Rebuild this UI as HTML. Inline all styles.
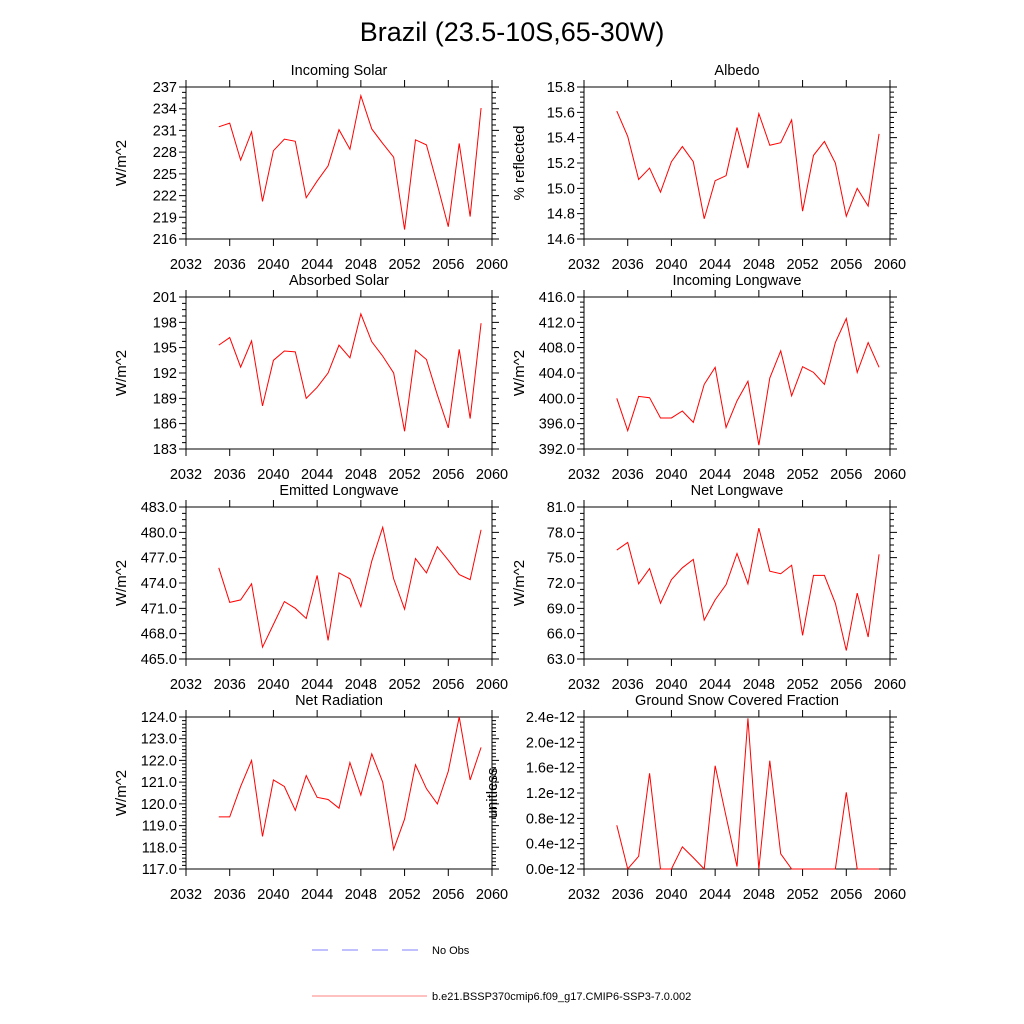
<!DOCTYPE html>
<html><head><meta charset="utf-8"><style>
body{margin:0;background:#fff}
svg{display:block;font-family:"Liberation Sans",sans-serif}
</style></head><body>
<svg id="c" width="1024" height="1024" viewBox="0 0 1024 1024">
<text x="512" y="41" font-size="27" text-anchor="middle">Brazil (23.5-10S,65-30W)</text>
<g>
<line x1="312" y1="950" x2="419" y2="950" stroke="#8080ff" stroke-width="1" stroke-dasharray="16,14"/>
<text x="432" y="954" font-size="11">No Obs</text>
<line x1="312" y1="996" x2="427" y2="996" stroke="#ff8080" stroke-width="1"/>
<text x="432" y="1000" font-size="11">b.e21.BSSP370cmip6.f09_g17.CMIP6-SSP3-7.0.002</text>
</g>
</svg>
<script>
const years=[2035,2036,2037,2038,2039,2040,2041,2042,2043,2044,2045,2046,2047,2048,2049,2050,2051,2052,2053,2054,2055,2056,2057,2058,2059];
const xTicks=[2032,2036,2040,2044,2048,2052,2056,2060];
const incomingSolar=[231.5,232.0,226.9,230.8,221.2,228.2,229.8,229.5,221.7,224.0,226.1,231.1,228.4,235.8,231.2,229.2,227.3,217.3,229.7,229.0,223.5,217.7,229.2,219.1,234.1];
const albedo=[15.61,15.41,15.07,15.16,14.97,15.21,15.33,15.21,14.76,15.06,15.10,15.48,15.16,15.59,15.34,15.36,15.54,14.82,15.26,15.37,15.20,14.78,15.00,14.86,15.43];
const absorbedSolar=[195.3,196.2,192.7,195.8,188.1,193.5,194.6,194.5,189.0,190.3,192.0,195.3,193.8,199.0,195.7,194.0,192.0,185.1,194.7,193.6,189.4,185.5,194.8,186.6,197.9];
const incomingLW=[400.0,394.9,400.3,400.1,396.9,396.9,398.0,396.2,402.2,404.9,395.4,399.6,402.7,392.6,403.2,407.5,400.4,405.0,404.1,402.2,408.8,412.6,404.1,408.8,404.9];
const emittedLW=[475.8,471.7,472.0,473.9,466.4,469.1,471.8,471.0,469.8,474.9,467.2,475.2,474.5,471.2,476.6,480.6,474.5,470.9,476.9,475.2,478.3,476.7,475.0,474.4,480.3];
const netLW=[75.9,76.8,71.9,73.7,69.6,72.4,73.8,74.8,67.6,70.0,71.8,75.5,71.9,78.5,73.4,73.1,74.1,65.8,72.9,72.9,69.6,64.0,70.8,65.6,75.4];
const netRad=[119.4,119.4,120.8,122.0,118.5,121.1,120.8,119.7,121.3,120.3,120.2,119.8,121.9,120.4,122.3,121.0,117.9,119.3,121.8,120.7,120.0,121.5,124.0,121.1,122.6];
const snowFrac=[0.69,0,0.2,1.51,0,0,0.35,0.18,0,1.63,0.83,0.04,2.38,0,1.71,0.24,0,0,0,0,0,1.21,0,0,0];
const ticksIS=[216,219,222,225,228,231,234,237];
const ticksAlb=[14.6,14.8,15.0,15.2,15.4,15.6,15.8];
const ticksAS=[183,186,189,192,195,198,201];
const ticksILW=[392,396,400,404,408,412,416];
const ticksELW=[465,468,471,474,477,480,483];
const ticksNLW=[63,66,69,72,75,78,81];
const ticksNR=[117,118,119,120,121,122,123,124];
const ticksSnow=[0,0.4,0.8,1.2,1.6,2.0,2.4];

const panels=[
 {t:"Incoming Solar",u:"W/m^2",d:incomingSolar,tk:ticksIS,f:v=>v.toFixed(0),c:0,r:0,n:"incoming-solar",minor:3},
 {t:"Albedo",u:"% reflected",d:albedo,tk:ticksAlb,f:v=>v.toFixed(1),c:1,r:0,n:"albedo",minor:4},
 {t:"Absorbed Solar",u:"W/m^2",d:absorbedSolar,tk:ticksAS,f:v=>v.toFixed(0),c:0,r:1,n:"absorbed-solar",minor:3},
 {t:"Incoming Longwave",u:"W/m^2",d:incomingLW,tk:ticksILW,f:v=>v.toFixed(1),c:1,r:1,n:"incoming-longwave",minor:4},
 {t:"Emitted Longwave",u:"W/m^2",d:emittedLW,tk:ticksELW,f:v=>v.toFixed(1),c:0,r:2,n:"emitted-longwave",minor:3},
 {t:"Net Longwave",u:"W/m^2",d:netLW,tk:ticksNLW,f:v=>v.toFixed(1),c:1,r:2,n:"net-longwave",minor:3},
 {t:"Net Radiation",u:"W/m^2",d:netRad,tk:ticksNR,f:v=>v.toFixed(1),c:0,r:3,n:"net-radiation",minor:5},
 {t:"Ground Snow Covered Fraction",u:"unitless",d:snowFrac,tk:ticksSnow,f:v=>v.toFixed(1)+"e-12",c:1,r:3,n:"ground-snow-covered-fraction",minor:4,ux:497}
];
const NS="http://www.w3.org/2000/svg";
const svg=document.getElementById('c');
function mk(tag,attrs,parent){const e=document.createElementNS(NS,tag);for(const k in attrs)e.setAttribute(k,attrs[k]);parent.appendChild(e);return e;}
const X0=[186,584],W=306,Y0=[87,297,507,717],H=152;
panels.forEach(p=>{
 const g=mk('g',{},svg);
 
 
 const x0=X0[p.c],y0=Y0[p.r],x1=x0+W,y1=y0+H;
 const lo=p.tk[0],hi=p.tk[p.tk.length-1];
 const xs=v=>x0+(v-2032)/(2060-2032)*W;
 const ys=v=>y1-(v-lo)/(hi-lo)*H;
 const box=mk('rect',{x:x0,y:y0,width:W,height:H,fill:'none',stroke:'#000','stroke-width':1},g);
 
 
 let tp="";
 xTicks.forEach(t=>{const x=xs(t);tp+=`M${x} ${y1}v7M${x} ${y0}v-7`;
  const tx=mk('text',{x:x,y:y1+30,'font-size':14.5,'text-anchor':'middle'},g);tx.textContent=t;
  
  });
 const step=p.tk[1]-p.tk[0];
 p.tk.forEach((t,i)=>{const y=ys(t);tp+=`M${x0} ${y}h-7M${x1} ${y}h7`;
  const tx=mk('text',{x:x0-9,y:y+5,'font-size':14.5,'text-anchor':'end'},g);tx.textContent=p.f(t);
  
  
  if(i<p.tk.length-1){for(let k=1;k<p.minor+1;k++){const ym=ys(t+step*k/(p.minor+1));tp+=`M${x0} ${ym}h-4M${x1} ${ym}h4`;}}
 });
 const ticks=mk('path',{d:tp,stroke:'#000','stroke-width':1,fill:'none'},g);
 
 
 const ti=mk('text',{x:x0+W/2,y:y0-12,'font-size':14.5,'text-anchor':'middle'},g);ti.textContent=p.t;
 
 
 const ux=p.ux||(x0-60);
 const ut=mk('text',{x:ux,y:y0+H/2,'font-size':15,'text-anchor':'middle',transform:`rotate(-90 ${ux} ${y0+H/2})`},g);ut.textContent=p.u;
 
 
 const pts=p.d.map((v,i)=>xs(years[i])+','+ys(v)).join(' ');
 const ln=mk('polyline',{points:pts,fill:'none',stroke:'#ff0000','stroke-width':1},g);
 
 
});
</script>
</body></html>
